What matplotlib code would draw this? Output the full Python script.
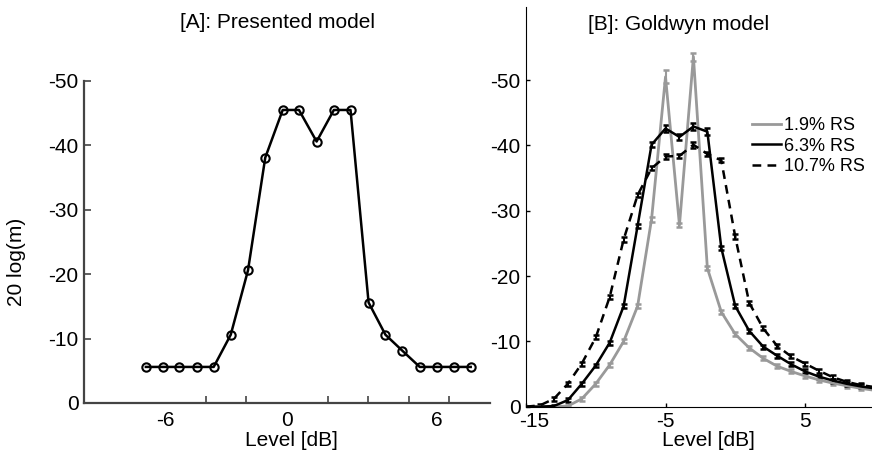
import matplotlib
matplotlib.use("Agg")
import matplotlib.pyplot as plt
from matplotlib.transforms import ScaledTranslation

plt.rcParams['font.family'] = ['Liberation Sans', 'DejaVu Sans']
plt.rcParams['axes.unicode_minus'] = False

# [A] presented model
level_a = [-6.95, -6.13, -5.30, -4.45, -3.61, -2.77, -1.92, -1.07, -0.21, 0.59,
           1.46, 2.31, 3.13, 4.02, 4.85, 5.69, 6.54, 7.38, 8.21, 9.05]
model_a = [-5.6, -5.6, -5.6, -5.6, -5.6, -10.6, -20.6, -38.1, -45.5, -45.5,
           -40.6, -45.5, -45.5, -15.6, -10.6, -8.1, -5.6, -5.6, -5.6, -5.6]
tick_pos_a = [-6, 0, 7.4]
tick_lab_a = ["-6", "0", "6"]

# [B] Goldwyn model
level_b = [-15, -14, -13, -12, -11, -10, -9, -8, -7, -6, -5, -4, -3,
           -2, -1, 0, 1, 2, 3, 4, 5, 6, 7, 8, 9, 10]
rs_19 = [0, 0, 0, -0.1, -1.2, -3.5, -6.4, -10.0, -15.4, -28.7, -50.5, -27.8, -53.6,
         -21.2, -14.5, -11.1, -9.0, -7.4, -6.2, -5.4, -4.7, -4.1, -3.6, -3.2, -2.8, -2.5]
rs_19_err = [0, 0, 0, 0.2, 0.3, 0.3, 0.3, 0.3, 0.3, 0.4, 1.0, 0.3, 0.6,
             0.3, 0.3, 0.3, 0.3, 0.3, 0.3, 0.3, 0.3, 0.3, 0.3, 0.3, 0.3, 0.3]
rs_63 = [0, 0, -0.1, -1.0, -3.5, -6.3, -9.8, -15.4, -27.7, -40.1, -42.6, -41.3, -42.9,
         -42.1, -24.3, -15.4, -11.6, -9.2, -7.8, -6.5, -5.4, -4.6, -4.0, -3.5, -3.1, -2.8]
rs_63_err = [0, 0, 0.2, 0.3, 0.3, 0.3, 0.3, 0.3, 0.3, 0.4, 0.6, 0.5, 0.6,
             0.5, 0.3, 0.3, 0.3, 0.3, 0.3, 0.3, 0.3, 0.3, 0.3, 0.3, 0.3, 0.3]
rs_107 = [0, -0.2, -1.2, -3.5, -6.6, -10.6, -16.8, -25.6, -32.4, -36.5, -38.3, -38.4, -40.1,
          -38.7, -37.7, -26.0, -15.9, -12.0, -9.3, -7.7, -6.6, -5.5, -4.5, -3.8, -3.3, -3.0]
rs_107_err = [0, 0.2, 0.3, 0.3, 0.3, 0.3, 0.3, 0.4, 0.3, 0.3, 0.4, 0.3, 0.5,
              0.3, 0.3, 0.4, 0.3, 0.3, 0.3, 0.3, 0.3, 0.3, 0.3, 0.3, 0.3, 0.3]

fig = plt.figure(figsize=(8.72, 4.55), dpi=100)

# left panel
ax1 = fig.add_axes([0.0963, 0.1143, 0.4656, 0.7077])
ax1.plot(level_a, model_a, color='k', lw=1.8, marker='o', ms=6,
         mfc='none', mew=1.5, clip_on=False)
ax1.set_xlim(-10, 10)
ax1.set_ylim(0, -50)
ax1.set_yticks([0, -10, -20, -30, -40, -50])
ax1.set_xticks(tick_pos_a)
ax1.set_xticklabels(tick_lab_a)
ax1.set_xticks([-6, -4, -2, 0, 2, 4, 6, 8], minor=True)
ax1.tick_params(axis='x', which='major', length=0, pad=6, labelsize=15)
ax1.tick_params(axis='x', which='minor', direction='in', length=5, width=1.2, color='#444444')
ax1.tick_params(axis='y', direction='in', length=5, width=1.2, color='#444444', pad=4, labelsize=15)
for s in ['top', 'right']:
    ax1.spines[s].set_visible(False)
for s in ['left', 'bottom']:
    ax1.spines[s].set_color('#444444')
    ax1.spines[s].set_linewidth(1.6)
fig.text(278 / 872, 1 - 22 / 455, "[A]: Presented model", ha='center', va='center', fontsize=15)
fig.text(291 / 872, 1 - 441 / 455, "Level [dB]", ha='center', va='center', fontsize=15)
fig.text(17 / 872, 1 - 262 / 455, "20 log(m)", ha='center', va='center', rotation=90, fontsize=15)

# right panel
ax2 = fig.add_axes([0.6032, 0.1062, 0.3968, 0.8785])
gray = '#999999'
ax2.errorbar(level_b, rs_19, yerr=rs_19_err, color=gray, lw=2, capsize=2.5,
             capthick=1.8, elinewidth=1.5, label='1.9% RS')
ax2.errorbar(level_b, rs_63, yerr=rs_63_err, color='k', lw=1.8, capsize=2.5,
             capthick=1.8, elinewidth=1.5, label='6.3% RS')
ax2.errorbar(level_b, rs_107, yerr=rs_107_err, color='k', lw=1.8, ls=(0, (3.5, 2.5)),
             capsize=2.5, capthick=1.8, elinewidth=1.5, label='10.7% RS')
ax2.set_xlim(-15, 9.8)
ax2.set_ylim(0, -61.2)
ax2.set_yticks([0, -10, -20, -30, -40, -50])
ax2.set_xticks([-15, -5, 5])
ax2.tick_params(direction='in', length=3, width=1, pad=4, labelsize=15)
first = ax2.get_xticklabels()[0]
first.set_transform(first.get_transform() + ScaledTranslation(8 / 100, 0, fig.dpi_scale_trans))
for s in ['top', 'right']:
    ax2.spines[s].set_visible(False)
fig.text(679 / 872, 1 - 24 / 455, "[B]: Goldwyn model", ha='center', va='center', fontsize=15)
fig.text(708 / 872, 1 - 440 / 455, "Level [dB]", ha='center', va='center', fontsize=15)

handles, labels = ax2.get_legend_handles_labels()
handles = [h[0] for h in handles]
fig.legend(handles, labels, loc='upper left', bbox_to_anchor=(752 / 872, 1 - 117 / 455),
           frameon=False, fontsize=13, handlelength=1.6, handletextpad=0.15,
           labelspacing=0.2, borderpad=0, borderaxespad=0)

fig.savefig("out.png", dpi=100)
